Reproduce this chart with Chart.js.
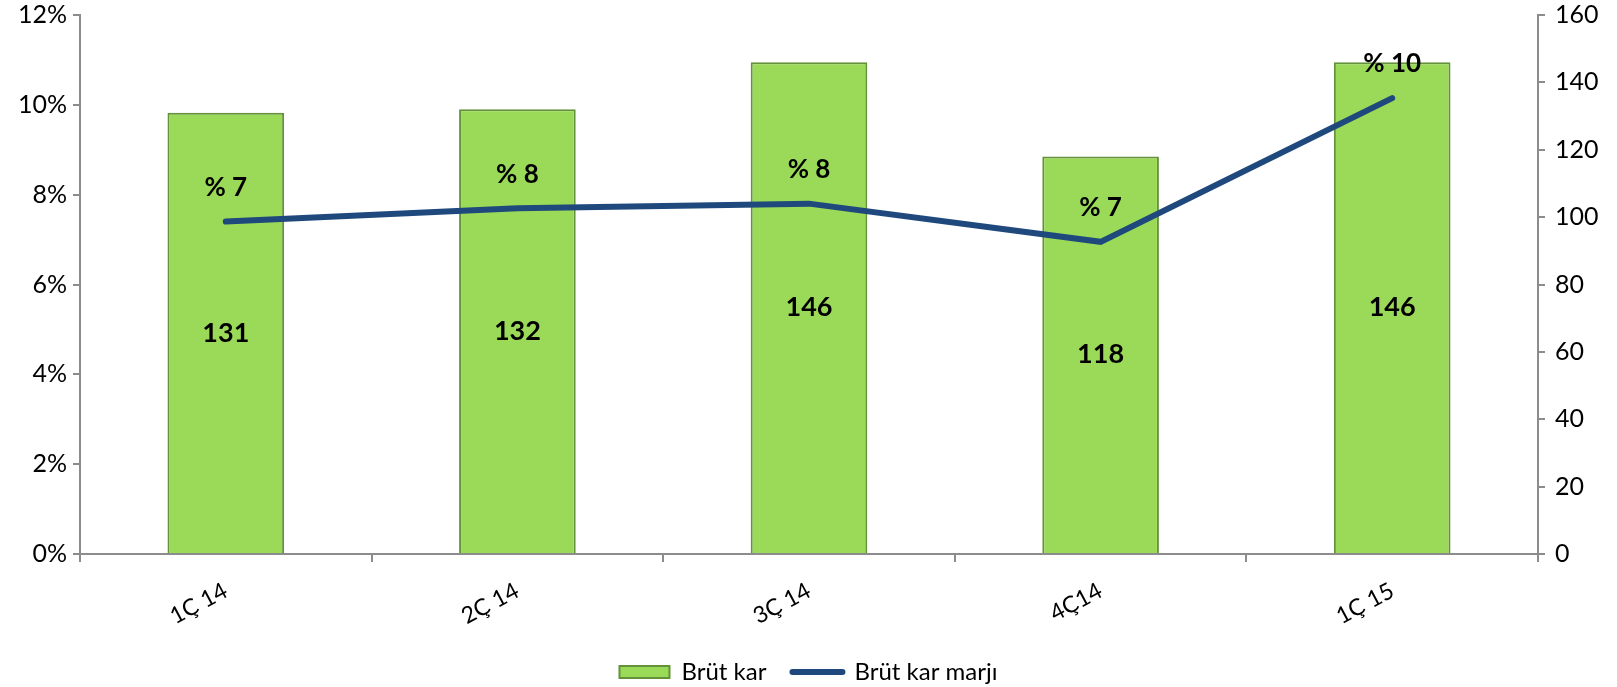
<!DOCTYPE html>
<html>
<head>
<meta charset="utf-8">
<script src="https://cdn.jsdelivr.net/npm/chart.js@4/dist/chart.umd.min.js"></script>
<style>
    html, body { margin: 0; padding: 0; background: #fff; }
    #wrap { width: 1617px; height: 687px; position: relative; }
</style>
</head>
<body>
<div id="wrap"><canvas id="chart"></canvas></div>
<script>
// Chart data
const quarters = ['1Ç 14', '2Ç 14', '3Ç 14', '4Ç14', '1Ç 15'];
const grossProfit = [131, 132, 146, 118, 146];
const grossMargin = [7.4, 7.7, 7.8, 6.95, 10.15];
const seriesNames = ['Brüt kar', 'Brüt kar marjı'];

const FONT = 'Lato, "Open Sans", sans-serif';
const AXIS_GREY = '#8c8c8c';
const BAR_FILL = '#9BDA58';
const BAR_EDGE = '#64923A';

// Draw value labels on bars and above line points
const valueLabels = {
    id: 'valueLabels',
    afterDatasetsDraw(chart) {
        const ctx = chart.ctx;
        ctx.save();
        ctx.fillStyle = '#000';
        ctx.textAlign = 'center';
        ctx.textBaseline = 'middle';

        const bars = chart.getDatasetMeta(0).data;
        ctx.font = 'bold 27px ' + FONT;
        bars.forEach((bar, i) => {
            ctx.fillText(String(grossProfit[i]), bar.x, (bar.y + bar.base) / 2);
        });

        const points = chart.getDatasetMeta(1).data;
        ctx.font = 'bold 26px ' + FONT;
        points.forEach((pt, i) => {
            ctx.fillText('% ' + Math.round(grossMargin[i]), pt.x, pt.y - 34);
        });
        ctx.restore();
    }
};

// Vertical axes: keep fixed width and drop the half-label padding at the top
function fitVertical(width) {
    return function(scale) {
        scale.width = width;
        scale.paddingTop = 0;
        scale.paddingBottom = 0;
    };
}

const ctx = document.getElementById('chart').getContext('2d');
const chart = new Chart(ctx, {
    type: 'bar',
    data: {
        labels: quarters,
        datasets: [{
            type: 'bar',
            label: seriesNames[0],
            data: grossProfit,
            yAxisID: 'yRight',
            backgroundColor: BAR_FILL,
            borderColor: BAR_EDGE,
            borderWidth: 2,
            categoryPercentage: 1,
            barPercentage: 0.4,
            order: 2
        }, {
            type: 'line',
            label: seriesNames[1],
            data: grossMargin,
            yAxisID: 'yLeft',
            borderColor: '#1F497D',
            backgroundColor: '#1F497D',
            borderWidth: 6,
            borderCapStyle: 'round',
            pointRadius: 0,
            tension: 0,
            order: 1
        }]
    },
    options: {
        responsive: true,
        maintainAspectRatio: false,
        animation: false,
        layout: {
            padding: { top: 15, left: 0, right: 0, bottom: -7 }
        },
        scales: {
            x: {
                offset: true,
                afterFit(scale) { scale.height = 80; },
                grid: {
                    display: true,
                    offset: true,
                    drawOnChartArea: false,
                    color: AXIS_GREY,
                    lineWidth: 2,
                    tickLength: 8
                },
                border: { color: AXIS_GREY, width: 2 },
                ticks: {
                    color: '#000',
                    font: { family: FONT, size: 23 },
                    minRotation: 28,
                    maxRotation: 28,
                    padding: 15
                }
            },
            yLeft: {
                position: 'left',
                min: 0,
                max: 12,
                afterFit: fitVertical(80),
                grid: {
                    drawOnChartArea: false,
                    color: AXIS_GREY,
                    lineWidth: 2,
                    tickLength: 7
                },
                border: { color: AXIS_GREY, width: 2 },
                ticks: {
                    stepSize: 2,
                    color: '#000',
                    font: { family: FONT, size: 25 },
                    padding: 6,
                    callback: v => v + '%'
                }
            },
            yRight: {
                position: 'right',
                min: 0,
                max: 160,
                afterFit: fitVertical(79),
                grid: {
                    drawOnChartArea: false,
                    color: AXIS_GREY,
                    lineWidth: 2,
                    tickLength: 7
                },
                border: { color: AXIS_GREY, width: 2 },
                ticks: {
                    stepSize: 20,
                    color: '#000',
                    font: { family: FONT, size: 25 },
                    padding: 10
                }
            }
        },
        plugins: {
            legend: {
                position: 'bottom',
                labels: {
                    color: '#000',
                    font: { family: FONT, size: 24 },
                    usePointStyle: true,
                    pointStyleWidth: 50,
                    boxHeight: 12,
                    padding: 26,
                    generateLabels(chart) {
                        const items = Chart.defaults.plugins.legend.labels.generateLabels(chart);
                        items.sort((a, b) => a.datasetIndex - b.datasetIndex);
                        items.forEach(item => {
                            if (item.datasetIndex === 0) {
                                item.pointStyle = 'rect';
                                item.fillStyle = BAR_FILL;
                                item.strokeStyle = BAR_EDGE;
                                item.lineWidth = 2;
                            } else {
                                item.pointStyle = 'line';
                                item.strokeStyle = '#1F497D';
                                item.lineWidth = 6;
                                item.lineCap = 'round';
                            }
                        });
                        return items;
                    }
                }
            },
            tooltip: { enabled: false }
        }
    },
    plugins: [valueLabels]
});
</script>
</body>
</html>
